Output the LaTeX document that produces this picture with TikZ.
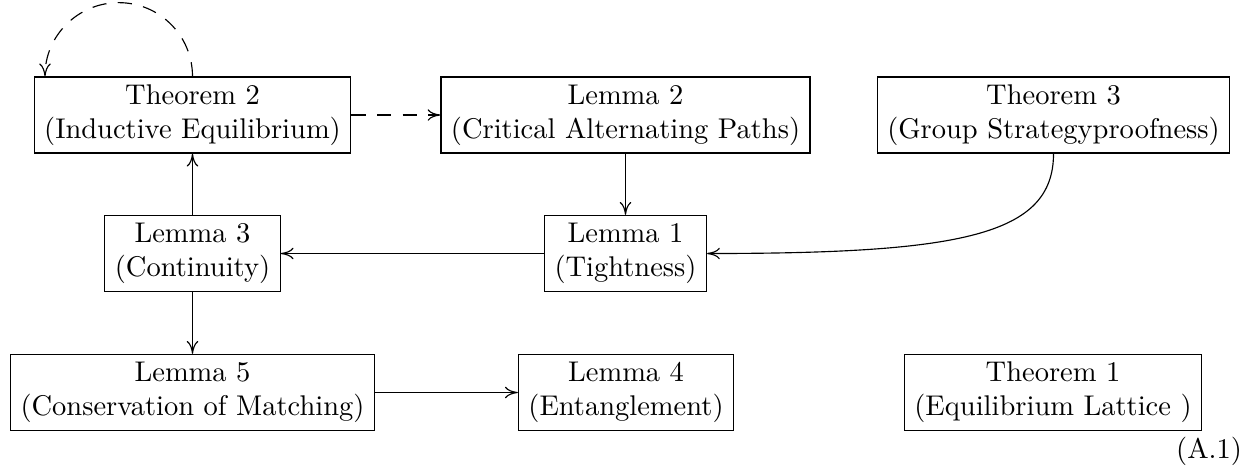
\documentclass[tikz,border=0pt]{standalone}
\usetikzlibrary{arrows.meta,calc}
\tikzset{
  box/.style={draw, line width=0.4pt, align=center, inner xsep=3.5pt, inner ysep=2pt, minimum height=26.7pt},
  conn/.style={line width=0.4pt, -{Computer Modern Rightarrow[length=4.5pt,width=4pt]}},
  dconn/.style={conn, dash pattern=on 5pt off 4pt},
}
\begin{document}
\begin{tikzpicture}[x=0.35088pt,y=-0.35088pt]
\useasboundingbox (0,0) rectangle (1255,470);
\node[box] (T2) at (192.5,115) {Theorem 2\\(Inductive Equilibrium)};
\node[box] (L2) at (625.5,115) {Lemma 2\\(Critical Alternating Paths)};
\node[box] (T3) at (1053.5,115) {Theorem 3\\(Group Strategyproofness)};
\node[box] (L3) at (192.5,253.5) {Lemma 3\\(Continuity)};
\node[box] (L1) at (625.5,253.5) {Lemma 1\\(Tightness)};
\node[box] (L5) at (192.5,392.5) {Lemma 5\\(Conservation of Matching)};
\node[box] (L4) at (626,392.5) {Lemma 4\\(Entanglement)};
\node[box] (T1) at (1053,392.5) {Theorem 1\\(Equilibrium Lattice )};
\node (eq) at (1209,451) {(A.1)};

\draw[dconn] (T2.north) arc[start angle=0, end angle=-180, radius=73.75];
\draw[dconn] (T2) -- (L2);
\draw[conn] (L2) -- (L1);
\draw[conn] (T3.south) .. controls ($(T3.south)+(0,82)$) and ($(L1.east)+(254,0)$) .. (L1.east);
\draw[conn] (L1) -- (L3);
\draw[conn] (L3) -- (T2);
\draw[conn] (L3) -- (L5);
\draw[conn] (L5) -- (L4);
\end{tikzpicture}
\end{document}
